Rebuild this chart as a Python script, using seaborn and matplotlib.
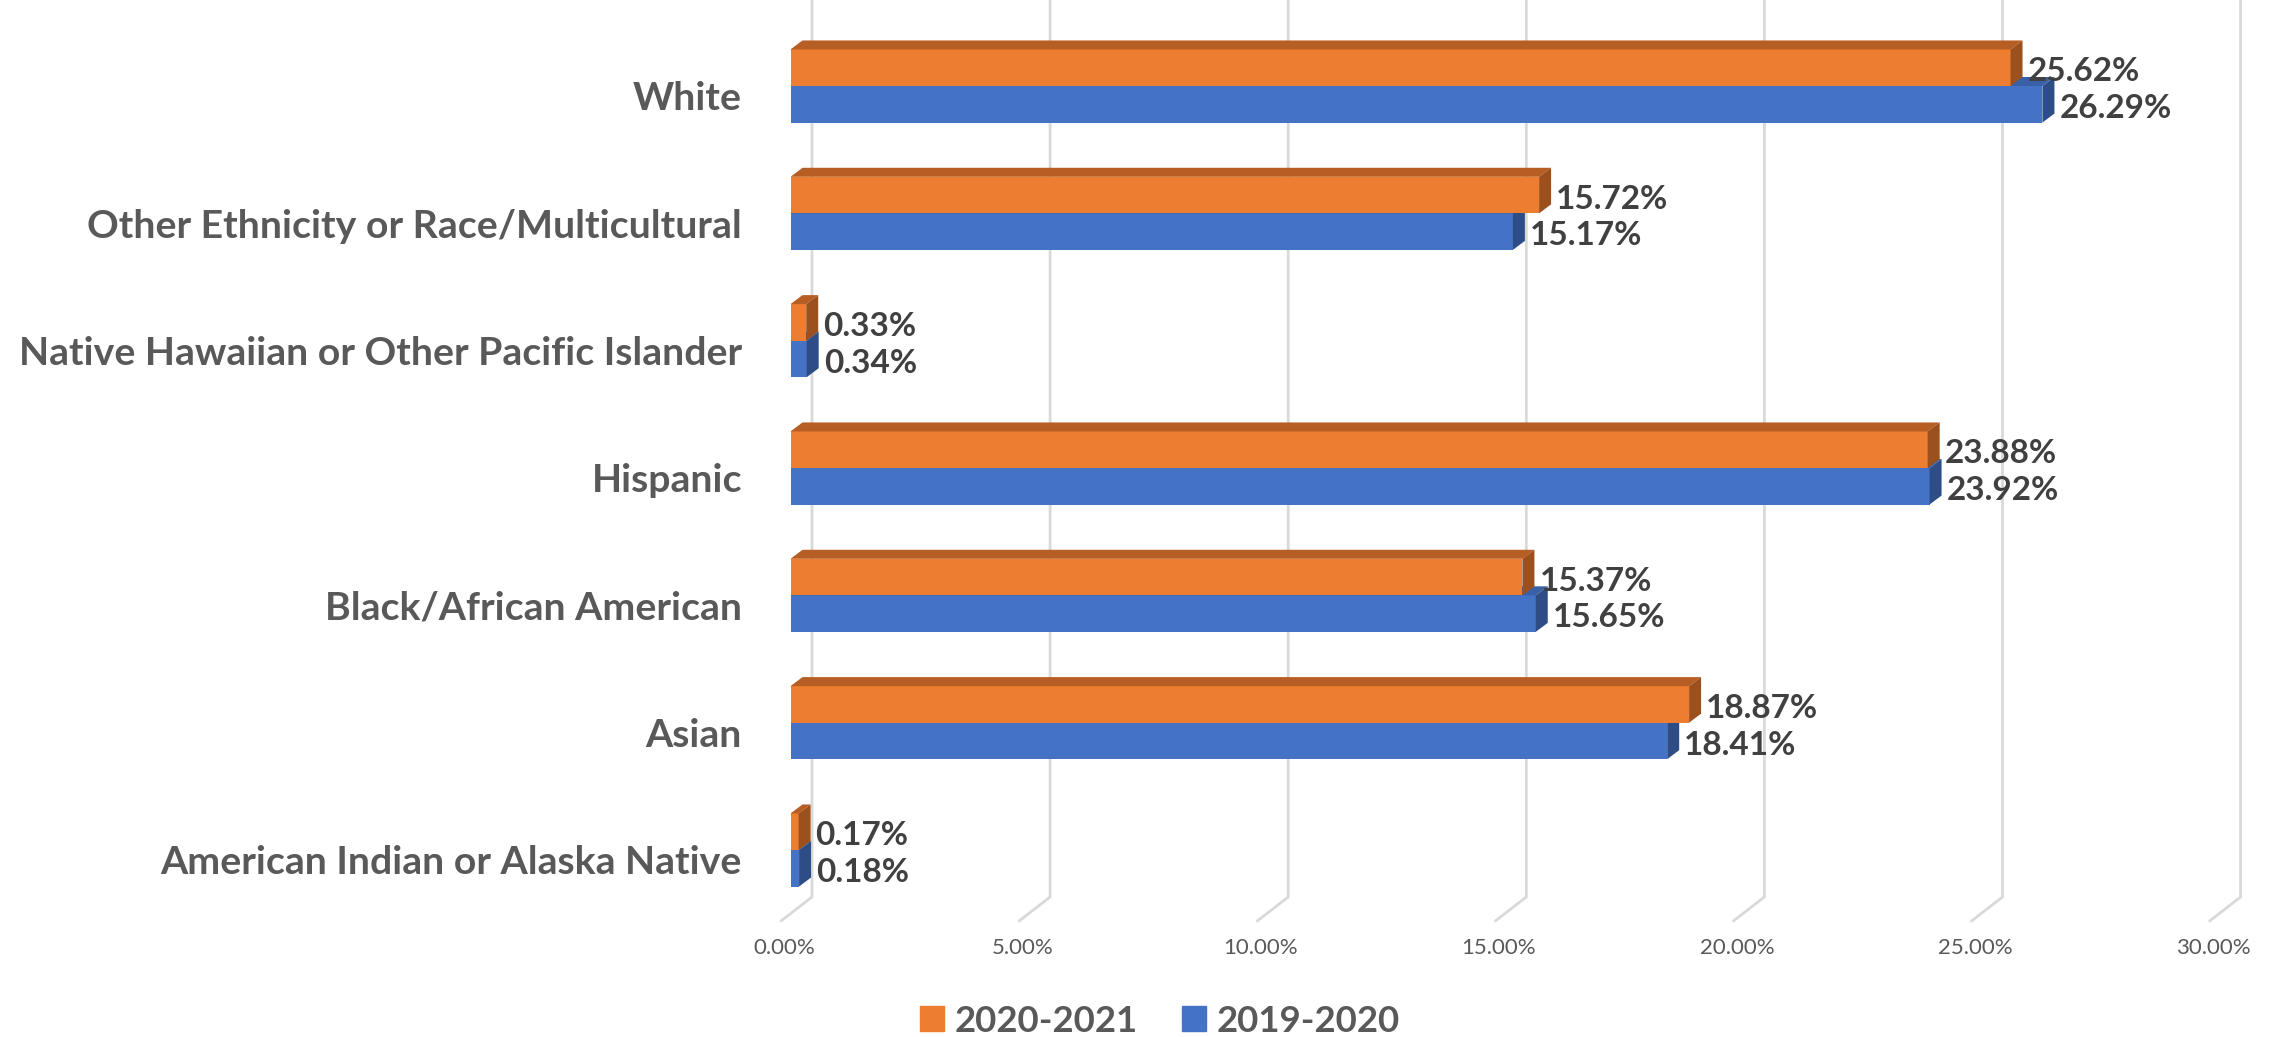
import pandas as pd
import matplotlib
matplotlib.use("Agg")
import matplotlib.pyplot as plt
import matplotlib.transforms as mtransforms
from matplotlib.patches import Polygon, Patch
import seaborn as sns

# -----------------------------
# Data
# -----------------------------
categories = [
    "White",
    "Other Ethnicity or Race/Multicultural",
    "Native Hawaiian or Other Pacific Islander",
    "Hispanic",
    "Black/African American",
    "Asian",
    "American Indian or Alaska Native",
]
share_2021 = [25.62, 15.72, 0.33, 23.88, 15.37, 18.87, 0.17]
share_2020 = [26.29, 15.17, 0.34, 23.92, 15.65, 18.41, 0.18]
years = ["2020-2021", "2019-2020"]
x_ticks = [0, 5, 10, 15, 20, 25, 30]
tick_labels = ["0.00%", "5.00%", "10.00%", "15.00%", "20.00%", "25.00%", "30.00%"]

df = pd.DataFrame({
    "group": categories * 2,
    "share": share_2021 + share_2020,
    "year": [years[0]] * len(categories) + [years[1]] * len(categories),
})

sns.set_style("white")
plt.rcParams["font.family"] = ["Lato", "DejaVu Sans"]

W, H = 2272, 1037
fig = plt.figure(figsize=(W / 100, H / 100), dpi=100)
ax = fig.add_axes([760 / W, 1 - 937 / H, (W - 760) / W, 937 / H])

orange, blue = "#ED7D31", "#4472C4"
sns.barplot(data=df, x="share", y="group", hue="year", hue_order=years,
            order=categories, palette=[orange, blue], saturation=1, width=0.574,
            orient="h", errorbar=None, legend=False, linewidth=0, ax=ax)

px = 47.62     # pixels per percent point
py = 127.33    # pixels per category
ax.set_xlim(-30.5 / px, (W - 790.5) / px)
y_top = -86 / py
ax.set_ylim((937 - 86) / py, y_top)

# -----------------------------
# fake 3D faces (top + side) like the Excel chart
# -----------------------------
dx, dy = 12 / px, 9 / py
face_cols = [("#B65E24", "#9C501D"), ("#3A61A8", "#2E4D87")]
for cont, z, (top_c, side_c) in zip(ax.containers, [3, 2], face_cols):
    for bar in cont:
        bar.set_zorder(z)
        x0, y0 = bar.get_x(), bar.get_y()
        x1 = x0 + bar.get_width()
        y1 = y0 + bar.get_height()
        top = Polygon([(x0, y0), (x1, y0), (x1 + dx, y0 - dy), (x0 + dx, y0 - dy)],
                      closed=True, facecolor=top_c, edgecolor="none", zorder=z + 0.1)
        side = Polygon([(x1, y0), (x1 + dx, y0 - dy), (x1 + dx, y1 - dy), (x1, y1)],
                       closed=True, facecolor=side_c, edgecolor="none", zorder=z + 0.1)
        ax.add_patch(top)
        ax.add_patch(side)
    anns = ax.bar_label(cont, labels=[f"{v:.2f}%" for v in cont.datavalues],
                        padding=12.2, fontsize=24, fontweight="bold", color="#404040",
                        zorder=5)
    for a in anns:
        a.xyann = (12.2, -3)

# gridlines on the back wall, bending forward at the floor
back, front = 21.5 / px, -9.5 / px
y_floor_back = (897 - 86) / py
y_floor_front = (921 - 86) / py
for t in x_ticks:
    ax.plot([t + back, t + back, t + front], [y_top, y_floor_back, y_floor_front],
            color="#D9D9D9", lw=2, zorder=0.5, clip_on=False)

# axes cosmetics
ax.set_xlabel("")
ax.set_ylabel("")
for s in ax.spines.values():
    s.set_visible(False)
ax.set_xticks(x_ticks)
ax.set_xticklabels(tick_labels)
ax.tick_params(axis="x", length=0, pad=1, labelsize=16, labelcolor="#595959")
ax.tick_params(axis="y", length=0, pad=13, labelsize=28.3, labelcolor="#595959")
for lbl in ax.get_xticklabels():
    lbl.set_transform(lbl.get_transform() +
                      mtransforms.ScaledTranslation(-6 / 100, 0, fig.dpi_scale_trans))
for lbl in ax.get_yticklabels():
    lbl.set_fontweight("bold")
    lbl.set_transform(lbl.get_transform() +
                      mtransforms.ScaledTranslation(0, -10 / 100, fig.dpi_scale_trans))

# legend
handles = [Patch(color=orange, label=years[0]), Patch(color=blue, label=years[1])]
fig.legend(handles=handles, loc="center", bbox_to_anchor=(1160 / W, 1 - 1021 / H),
           ncol=2, frameon=False, prop={"size": 26.4, "weight": "bold"},
           labelcolor="#595959", handlelength=0.65, handleheight=0.65,
           handletextpad=0.3, columnspacing=1.2)

fig.savefig("out.png", dpi=100)
